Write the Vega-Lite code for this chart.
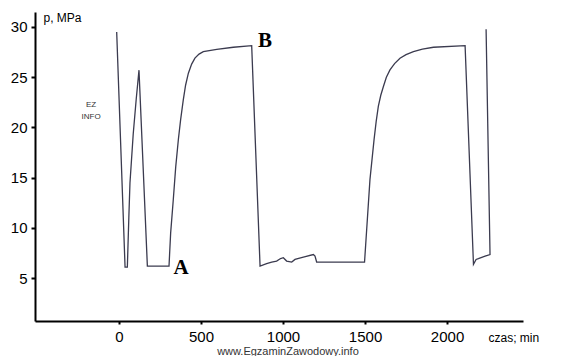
{
  "$schema": "https://vega.github.io/schema/vega-lite/v6.json",
  "width": 488,
  "height": 309,
  "autosize": "none",
  "padding": {"left": 35, "top": 12, "right": 38, "bottom": 35},
  "background": "white",
  "config": {"view": {"stroke": null}},
  "datasets": {
    "curve": [
      {"i": 1, "t": -14, "p": 29.5},
      {"i": 2, "t": 37, "p": 6.1},
      {"i": 3, "t": 51, "p": 6.1},
      {"i": 4, "t": 60, "p": 11.0},
      {"i": 5, "t": 67, "p": 14.5},
      {"i": 6, "t": 87, "p": 19.4},
      {"i": 7, "t": 105, "p": 22.8},
      {"i": 8, "t": 122, "p": 25.7},
      {"i": 9, "t": 173, "p": 6.2},
      {"i": 10, "t": 305, "p": 6.2},
      {"i": 11, "t": 315, "p": 9.5},
      {"i": 12, "t": 331, "p": 12.8},
      {"i": 13, "t": 346, "p": 16.1},
      {"i": 14, "t": 362, "p": 18.8},
      {"i": 15, "t": 376, "p": 20.8},
      {"i": 16, "t": 392, "p": 22.75},
      {"i": 17, "t": 406, "p": 24.2},
      {"i": 18, "t": 423, "p": 25.4},
      {"i": 19, "t": 443, "p": 26.3},
      {"i": 20, "t": 463, "p": 26.9},
      {"i": 21, "t": 488, "p": 27.3},
      {"i": 22, "t": 514, "p": 27.55},
      {"i": 23, "t": 596, "p": 27.78},
      {"i": 24, "t": 697, "p": 27.98},
      {"i": 25, "t": 809, "p": 28.14},
      {"i": 26, "t": 860, "p": 6.2},
      {"i": 27, "t": 900, "p": 6.45},
      {"i": 28, "t": 931, "p": 6.6},
      {"i": 29, "t": 961, "p": 6.7},
      {"i": 30, "t": 985, "p": 6.95},
      {"i": 31, "t": 1002, "p": 7.03},
      {"i": 32, "t": 1022, "p": 6.7},
      {"i": 33, "t": 1053, "p": 6.6},
      {"i": 34, "t": 1073, "p": 6.86},
      {"i": 35, "t": 1124, "p": 7.1},
      {"i": 36, "t": 1185, "p": 7.35},
      {"i": 37, "t": 1195, "p": 7.19},
      {"i": 38, "t": 1205, "p": 6.6},
      {"i": 39, "t": 1226, "p": 6.6},
      {"i": 40, "t": 1497, "p": 6.6},
      {"i": 41, "t": 1510, "p": 9.84},
      {"i": 42, "t": 1530, "p": 14.8},
      {"i": 43, "t": 1555, "p": 18.78},
      {"i": 44, "t": 1568, "p": 20.6},
      {"i": 45, "t": 1581, "p": 22.1},
      {"i": 46, "t": 1596, "p": 23.2},
      {"i": 47, "t": 1612, "p": 24.07},
      {"i": 48, "t": 1630, "p": 25.0},
      {"i": 49, "t": 1652, "p": 25.73},
      {"i": 50, "t": 1680, "p": 26.35},
      {"i": 51, "t": 1713, "p": 26.89},
      {"i": 52, "t": 1750, "p": 27.25},
      {"i": 53, "t": 1795, "p": 27.55},
      {"i": 54, "t": 1850, "p": 27.8},
      {"i": 55, "t": 1917, "p": 27.98},
      {"i": 56, "t": 2110, "p": 28.14},
      {"i": 57, "t": 2161, "p": 6.37},
      {"i": 58, "t": 2177, "p": 6.86},
      {"i": 59, "t": 2191, "p": 6.93},
      {"i": 60, "t": 2232, "p": 7.19},
      {"i": 61, "t": 2262, "p": 7.35},
      {"i": 62, "t": 2238, "p": 29.77}
    ],
    "labels": [
      {"t": 378, "p": 5.97, "txt": "A"},
      {"t": 890, "p": 28.6, "txt": "B"}
    ],
    "marks": [
      {"t": 1030, "p": -2.35, "txt": "www.EgzaminZawodowy.info", "size": 11},
      {"t": -170, "p": 22.2, "txt": "EZ", "size": 8},
      {"t": -170, "p": 21.0, "txt": "INFO", "size": 8}
    ]
  },
  "layer": [
    {
      "data": {"name": "curve"},
      "mark": {"type": "line", "color": "#3b3b4f", "strokeWidth": 1.3, "interpolate": "linear"},
      "encoding": {
        "x": {
          "field": "t", "type": "quantitative",
          "scale": {"domain": [-512, 2463], "nice": false, "zero": false},
          "axis": {
            "values": [0, 500, 1000, 1500, 2000],
            "format": "d",
            "grid": false,
            "domainColor": "black", "domainWidth": 2,
            "tickColor": "black", "tickSize": 3, "tickWidth": 2,
            "labelFont": "Liberation Sans", "labelFontSize": 15, "labelColor": "black", "labelPadding": 5,
            "title": "czas; min",
            "titleFont": "Liberation Sans", "titleFontSize": 12, "titleFontWeight": "normal", "titleColor": "black",
            "titleX": 453, "titleY": 16, "titleAlign": "left", "titleBaseline": "middle"
          }
        },
        "y": {
          "field": "p", "type": "quantitative",
          "scale": {"domain": [0.73, 31.49], "nice": false, "zero": false},
          "axis": {
            "values": [5, 10, 15, 20, 25, 30],
            "grid": false,
            "domainColor": "black", "domainWidth": 2,
            "tickColor": "black", "tickSize": 4, "tickWidth": 2,
            "labelFont": "Liberation Sans", "labelFontSize": 15, "labelColor": "black", "labelPadding": 4,
            "title": "p, MPa",
            "titleFont": "Liberation Sans", "titleFontSize": 12, "titleFontWeight": "normal", "titleColor": "black",
            "titleAngle": 0, "titleX": 8, "titleY": 5, "titleAlign": "left", "titleBaseline": "middle"
          }
        },
        "order": {"field": "i", "type": "quantitative"}
      }
    },
    {
      "data": {"name": "labels"},
      "mark": {"type": "text", "font": "Liberation Serif", "fontSize": 21, "fontWeight": "bold", "color": "black", "align": "center", "baseline": "middle"},
      "encoding": {
        "x": {"field": "t", "type": "quantitative"},
        "y": {"field": "p", "type": "quantitative"},
        "text": {"field": "txt"}
      }
    },
    {
      "data": {"name": "marks"},
      "mark": {"type": "text", "font": "Liberation Sans", "color": "#333333", "align": "center", "baseline": "middle"},
      "encoding": {
        "x": {"field": "t", "type": "quantitative"},
        "y": {"field": "p", "type": "quantitative"},
        "text": {"field": "txt"},
        "size": {"field": "size", "type": "quantitative", "scale": null}
      }
    }
  ]
}
